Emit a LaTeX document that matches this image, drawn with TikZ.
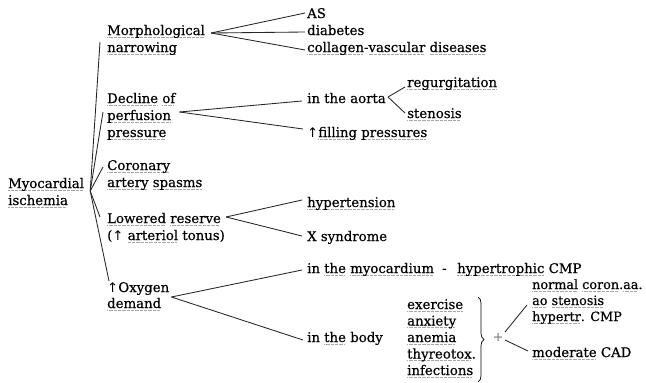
\documentclass[tikz,border=0pt]{standalone}
\usepackage{fontspec}
\setmainfont{DejaVu Serif}[FakeBold=0.5]
\newfontfamily\arrfont{DejaVu Sans}
\usetikzlibrary{decorations.pathreplacing}
\newsavebox\sqbox
\newcommand\sq[1]{\sbox\sqbox{#1}\rlap{\color{black!35}\raisebox{-2.6pt}{\hbox to\wd\sqbox{\leaders\hbox{\rule{0.7pt}{0.7pt}\kern0.6pt}\hfill}}}\usebox\sqbox}
\newcommand\upar{{\arrfont ↑}}
\begin{document}
\begin{tikzpicture}[x=1pt,y=-1pt,
  txt/.style={inner sep=0pt, anchor=base west, align=left, font=\fontsize{13.3}{17}\selectfont},
  con/.style={line width=0.85pt, draw=black!85}]
\useasboundingbox[fill=white] (0,0) rectangle (646,383);

% level 0 (multi-line nodes are placed at the baseline of their last line)
\node[txt] (root) at (8,205) {\sq{Myocardial}\\\sq{ischemia}};
% level 1
\node[txt] (morph) at (107,52) {\sq{Morphological}\\\sq{narrowing}};
\node[txt] (decl) at (107,137) {\sq{Decline} \sq{of}\\\sq{perfusion}\\\sq{pressure}};
\node[txt] (coro) at (107,187) {\sq{Coronary}\\\sq{artery} \sq{spasms}};
\node[txt] (lowr) at (107,240) {\sq{Lowered} \sq{reserve}\\(\upar{} \sq{arteriol} tonus)};
\node[txt] (oxy) at (107,308) {\upar Oxygen\\[-1pt]\sq{demand}};
% level 2
\node[txt] (as) at (307,18) {AS};
\node[txt] (diab) at (307,35) {diabetes};
\node[txt] (coll) at (307,52) {\sq{collagen}-\sq{vascular} \sq{diseases}};
\node[txt] (aorta) at (307,103) {in the aorta};
\node[txt] (regu) at (407,87) {\sq{regurgitation}};
\node[txt] (sten) at (407,118) {\sq{stenosis}};
\node[txt] (fill) at (307,137) {\upar\sq{filling} \sq{pressures}};
\node[txt] (hyp) at (307,207) {\sq{hypertension}};
\node[txt] (xsyn) at (307,241) {X syndrome};
\node[txt] (myoc) at (307,273) {in \sq{the} \sq{myocardium}\hspace{0.6em}-\hspace{0.8em}\sq{hypertrophic} CMP};
\node[txt] (body) at (307,342) {in \sq{the} body};
\node[txt, font=\fontsize{13.3}{16.5}\selectfont] (list) at (407,375) {\sq{exercise}\\\sq{anxiety}\\\sq{anemia}\\\sq{thyreotox}.\\\sq{infections}};
\node[inner sep=0pt, anchor=center, text=black!55, font=\fontsize{12}{12}\selectfont] (plus) at (498,337) {+};
\node[txt, font=\fontsize{12.8}{16}\selectfont] (norm) at (532,321) {\sq{normal} \sq{coron}.\sq{aa}.\\\sq{ao} \sq{stenosis}\\\sq{hypertr}. CMP};
\node[txt] (cad) at (532,357) {\sq{moderate} CAD};

% junctions
\coordinate (jr) at ([xshift=6pt,yshift=14pt]root.base east);
\coordinate (jm) at ([xshift=6pt,yshift=19pt]morph.base east);
\coordinate (jd) at ([xshift=4pt,yshift=25pt]decl.base east);
\coordinate (ja) at ([xshift=2pt,yshift=6pt]aorta.base east);
\coordinate (jl) at ([xshift=1pt,yshift=23pt]lowr.base east);
\coordinate (jo) at ([xshift=2pt,yshift=11pt]oxy.base east);

% root connectors
\draw[con] (jr) -- ([xshift=-7pt,yshift=10pt]morph.base west);
\draw[con] (jr) -- ([xshift=-4pt,yshift=25pt]decl.base west);
\draw[con] (jr) -- ([xshift=-4pt,yshift=20pt]coro.base west);
\draw[con] (jr) -- ([xshift=-7pt,yshift=23pt]lowr.base west);
\draw[con] (jr) -- ([xshift=2pt,yshift=27pt]oxy.base west);

% morphological
\draw[con] (jm) -- ([xshift=-2pt,yshift=5pt]as.base west);
\draw[con] (jm) -- ([xshift=-2pt,yshift=3pt]diab.base west);
\draw[con] (jm) -- ([xshift=-2pt,yshift=2pt]coll.base west);
% decline
\draw[con] (jd) -- ([xshift=-5pt,yshift=2pt]aorta.base west);
\draw[con] (jd) -- ([xshift=-4pt,yshift=8pt]fill.base west);
\draw[con] (ja) -- ([xshift=-2pt,yshift=0pt]regu.base west);
\draw[con] (ja) -- ([xshift=-2pt,yshift=5pt]sten.base west);
% lowered
\draw[con] (jl) -- ([xshift=-5pt,yshift=7pt]hyp.base west);
\draw[con] (jl) -- ([xshift=-5pt,yshift=5pt]xsyn.base west);
% oxygen
\draw[con] (jo) -- ([xshift=-5pt,yshift=3pt]myoc.base west);
\draw[con] (jo) -- ([xshift=-4pt,yshift=2pt]body.base west);
% brace and plus
\draw[line width=0.7pt, decorate, decoration={brace, amplitude=6pt}] (478,297) -- (478,382);
\draw[con] ([xshift=7pt,yshift=5pt]plus.center) -- ([xshift=-5pt,yshift=16pt]norm.base west);
\draw[con] ([xshift=7pt,yshift=-3pt]plus.center) -- ([xshift=-4pt,yshift=6pt]cad.base west);
\end{tikzpicture}
\end{document}
